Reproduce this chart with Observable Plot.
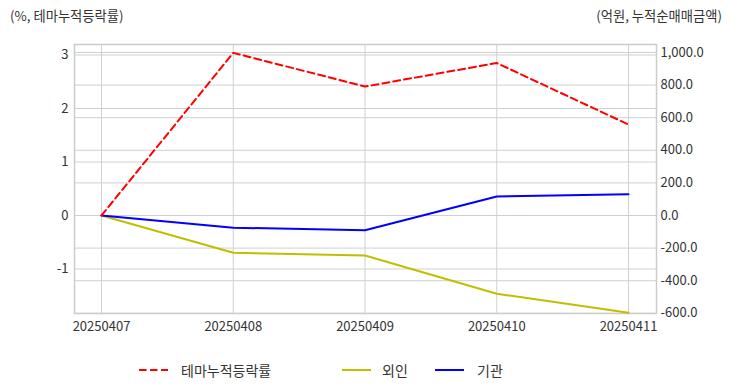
<!DOCTYPE html>
<html>
<head>
<meta charset="utf-8">
<script src="https://cdn.jsdelivr.net/npm/d3@7"></script>
<script src="https://cdn.jsdelivr.net/npm/@observablehq/plot@0.6"></script>
<style>
  html, body { margin: 0; padding: 0; background: #fff; }
  body { width: 732px; height: 392px; position: relative; overflow: hidden;
         font-family: "Noto Sans CJK KR", "Noto Sans", sans-serif; color: #333; }
  .ttl { position: absolute; top: 7px; font-size: 13.3px; color: #333; line-height: 18px; }
  #chart { position: absolute; left: 0; top: 30px; }
  #legend { position: absolute; top: 359px; left: 0; width: 732px; height: 22px; font-size: 14px; color: #333; }
  .sw { position: absolute; top: 9px; }
  .lt { position: absolute; top: 0; line-height: 22px; white-space: nowrap; }
</style>
</head>
<body>
<div class="ttl" style="left:10px">(%, 테마누적등락률)</div>
<div class="ttl" style="right:10px">(억원, 누적순매매금액)</div>
<div id="chart"></div>
<div id="legend"></div>
<script>
// ---- data ----
const dates = ["20250407", "20250408", "20250409", "20250410", "20250411"];
const themeRate = [0, 3.04, 2.41, 2.85, 1.70];       // % (left axis)
const foreign = [0, -229, -245, -480, -597];          // 억원 (right axis)
const institution = [0, -75, -90, 117, 131];          // 억원 (right axis)
const leftTicks = [-1, 0, 1, 2, 3];
const rightTicks = [-600, -400, -200, 0, 200, 400, 600, 800, 1000];
const seriesNames = ["테마누적등락률", "외인", "기관"];
const seriesColors = ["#ff0000", "#bfbf00", "#0000ff"];

// ---- scales ----
const leftDomain = [-1.832, 3.196];
const k = 0.163 / 53.5;           // right-axis units -> left-axis units (zeros aligned)
const toLeft = v => v * k;
const fromLeft = v => v / k;

const rows = [];
dates.forEach((d, i) => {
  rows.push({date: d, series: seriesNames[0], y: themeRate[i]});
  rows.push({date: d, series: seriesNames[1], y: toLeft(foreign[i])});
  rows.push({date: d, series: seriesNames[2], y: toLeft(institution[i])});
});

const gridColor = "#d0d0d0";
const chart = Plot.plot({
  width: 732,
  height: 312,
  marginTop: 14,
  marginBottom: 29,
  marginLeft: 74,
  marginRight: 76,
  style: {fontFamily: '"Noto Sans CJK KR", "Noto Sans", sans-serif', fontSize: "13px", color: "#333", background: "#fff"},
  x: {type: "point", domain: dates, padding: 0, round: false, insetLeft: 27, insetRight: 28},
  y: {domain: leftDomain},
  marks: [
    Plot.gridX(dates, {stroke: gridColor, strokeOpacity: 1, strokeWidth: 1}),
    Plot.gridY(leftTicks, {stroke: gridColor, strokeOpacity: 1, strokeWidth: 1}),
    Plot.gridY(rightTicks.map(toLeft), {stroke: gridColor, strokeOpacity: 1, strokeWidth: 1}),
    Plot.frame({stroke: "#cccccc", strokeWidth: 1.5}),
    Plot.axisY(leftTicks, {anchor: "left", tickSize: 0, tickPadding: 6, label: null, tickFormat: d => d3.format("d")(d).replace("−", "-")}),
    Plot.axisY(rightTicks.map(toLeft), {anchor: "right", tickSize: 0, tickPadding: 4, label: null,
      tickFormat: v => d3.format(",.1f")(Math.round(fromLeft(v))).replace("−", "-")}),
    Plot.axisX(dates, {anchor: "bottom", tickSize: 0, tickPadding: 8, label: null}),
    Plot.line(rows.filter(r => r.series === seriesNames[1]), {x: "date", y: "y", stroke: seriesColors[1], strokeWidth: 2}),
    Plot.line(rows.filter(r => r.series === seriesNames[2]), {x: "date", y: "y", stroke: seriesColors[2], strokeWidth: 2}),
    Plot.line(rows.filter(r => r.series === seriesNames[0]), {x: "date", y: "y", stroke: seriesColors[0], strokeWidth: 2, strokeDasharray: "7,4"})
  ]
});
document.getElementById("chart").appendChild(chart);

// ---- legend ----
const legend = document.getElementById("legend");
const swatchX = [139, 342, 435];
const textX = [181, 382, 477];
seriesNames.forEach((name, i) => {
  const dash = i === 0 ? ' stroke-dasharray="7.5,3.5"' : "";
  const sw = document.createElement("div");
  sw.className = "sw";
  sw.style.left = swatchX[i] + "px";
  sw.innerHTML = `<svg width="29" height="4" style="display:block"><line x1="0" y1="2" x2="29" y2="2" stroke="${seriesColors[i]}" stroke-width="2"${dash}/></svg>`;
  legend.appendChild(sw);
  const t = document.createElement("div");
  t.className = "lt";
  t.style.left = textX[i] + "px";
  t.textContent = name;
  legend.appendChild(t);
});
</script>
</body>
</html>
